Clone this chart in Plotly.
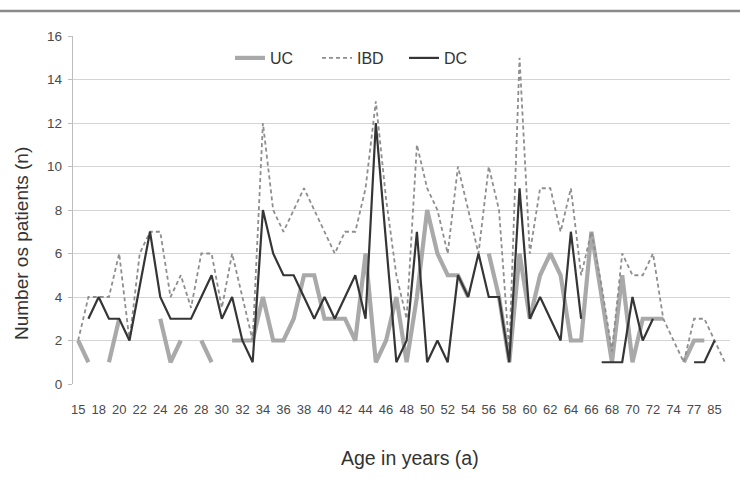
import plotly.graph_objects as go

# Age categories (every other one is labelled on the axis)
ages = [15, 16, 18, 19, 20, 21, 22, 23, 24, 25, 26, 27, 28, 29, 30, 31,
        32, 33, 34, 35, 36, 37, 38, 39, 40, 41, 42, 43, 44, 45, 46, 47,
        48, 49, 50, 51, 52, 53, 54, 55, 56, 57, 58, 59, 60, 61, 62, 63,
        64, 65, 66, 67, 68, 69, 70, 71, 72, 73, 74, 75, 77, 80, 85, 86]

uc = [2, 1, None, 1, 3, None, None, None, 3, 1, 2, None, 2, 1, None, 2,
      2, 2, 4, 2, 2, 3, 5, 5, 3, 3, 3, 2, 6, 1, 2, 4,
      1, 4, 8, 6, 5, 5, 4, None, 6, 4, 1, 6, 3, 5, 6, 5,
      2, 2, 7, 4, 1, 5, 1, 3, 3, 3, None, 1, 2, 2, None, None]

ibd = [2, 4, 4, 4, 6, 2, 6, 7, 7, 4, 5, 3.5, 6, 6, 3.5, 6,
       4, 2, 12, 8, 7, 8, 9, 8, 7, 6, 7, 7, 9, 13, 8.5, 5,
       3, 11, 9, 8, 6, 10, 8, 6, 10, 8, 1.5, 15, 6, 9, 9, 7,
       9, 5, 7, 4.5, 1.5, 6, 5, 5, 6, 3, 2, 1, 3, 3, 2, 1]

dc = [None, 3, 4, 3, 3, 2, 4.5, 7, 4, 3, 3, 3, 4, 5, 3, 4,
      2, 1, 8, 6, 5, 5, 4, 3, 4, 3, 4, 5, 3, 12, 6.5, 1,
      2, 7, 1, 2, 1, 5, 4, 6, 4, 4, 1, 9, 3, 4, 3, 2,
      7, 3, None, 1, 1, 1, 4, 2, 3, None, None, None, 1, 1, 2, None]

y_ticks = [0, 2, 4, 6, 8, 10, 12, 14, 16]

idx = list(range(len(ages)))
tick_idx = idx[::2]
tick_txt = [str(ages[i]) for i in tick_idx]

fig = go.Figure()
fig.add_trace(go.Scatter(x=idx, y=uc, name="UC", mode="lines",
                         line=dict(color="#a9a9a9", width=4.2),
                         connectgaps=False))
fig.add_trace(go.Scatter(x=idx, y=ibd, name="IBD", mode="lines",
                         line=dict(color="#8e8e8e", width=1.8, dash="4px,3px"),
                         connectgaps=False))
fig.add_trace(go.Scatter(x=idx, y=dc, name="DC", mode="lines",
                         line=dict(color="#353535", width=2.2),
                         connectgaps=False))

W, H = 740, 483
L, R, T, B = 73, 10, 36, 99
pw, ph = W - L - R, H - T - B

def px_to_paper_x(px):
    return (px - L) / pw

def px_to_paper_y(py):
    return (H - B - py) / ph

fig.update_layout(
    width=W, height=H,
    margin=dict(l=L, r=R, t=T, b=B),
    paper_bgcolor="white", plot_bgcolor="white",
    font=dict(family="Liberation Sans, Arial, sans-serif", color="#404040"),
    showlegend=True,
    legend=dict(orientation="h", x=px_to_paper_x(230), xanchor="left",
                y=px_to_paper_y(58), yanchor="middle",
                font=dict(size=16, color="#333333"),
                bgcolor="rgba(0,0,0,0)", entrywidth=42, entrywidthmode="pixels",
                tracegroupgap=0),
    xaxis=dict(range=[-0.5, len(ages) - 0.5], tickmode="array",
               tickvals=tick_idx, ticktext=tick_txt,
               showgrid=False, zeroline=False,
               showline=False, ticks="",
               tickfont=dict(family="Liberation Sans", size=13, color="#4a4a4a"),
               ticklabelstandoff=16, fixedrange=True),
    yaxis=dict(range=[0, 16], tickmode="array", tickvals=y_ticks,
               showgrid=True, gridcolor="#d4d4d4", gridwidth=1.3,
               zeroline=False, showline=True, linecolor="#bdbdbd", linewidth=1.3,
               ticks="outside", ticklen=4, tickcolor="#bdbdbd",
               tickfont=dict(size=13.5, color="#4a4a4a"),
               ticklabelstandoff=3, fixedrange=True),
    annotations=[
        dict(text="Number os patients (n)", xref="paper", yref="paper",
             x=px_to_paper_x(22), y=px_to_paper_y(244), textangle=-90,
             showarrow=False, xanchor="center", yanchor="middle",
             font=dict(size=19, color="#333333")),
        dict(text="Age in years (a)", xref="paper", yref="paper",
             x=px_to_paper_x(410), y=px_to_paper_y(458),
             showarrow=False, xanchor="center", yanchor="middle",
             font=dict(size=19.5, color="#333333")),
    ],
    shapes=[
        dict(type="line", xref="paper", yref="paper",
             x0=px_to_paper_x(0), x1=px_to_paper_x(W),
             y0=px_to_paper_y(11), y1=px_to_paper_y(11),
             line=dict(color="#8a8a8a", width=2.5)),
    ],
)

fig.write_html("out.html")
